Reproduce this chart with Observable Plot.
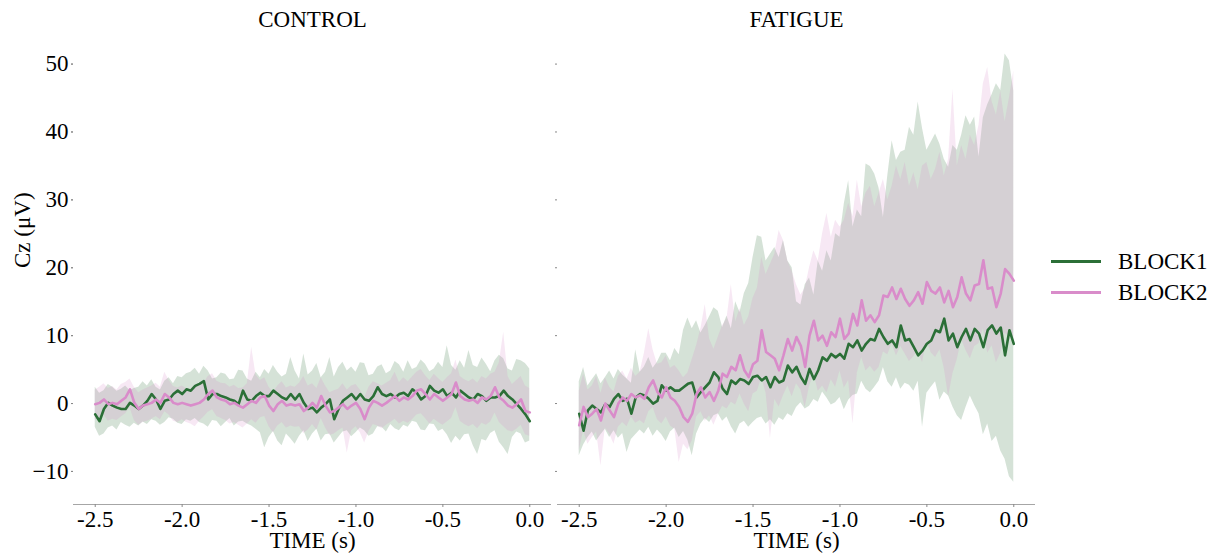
<!DOCTYPE html>
<html><head><meta charset="utf-8">
<script src="https://cdn.jsdelivr.net/npm/d3@7"></script>
<script src="https://cdn.jsdelivr.net/npm/@observablehq/plot@0.6"></script>
<style>
body{margin:0;background:#fff;font-family:"Liberation Serif","Times New Roman",serif;}
#wrap{position:relative;width:1218px;height:554px;overflow:hidden;}
#chart{position:absolute;left:0;top:0;}
#legend{position:absolute;left:1051px;top:246px;font-size:23px;color:#000;}
.item{display:flex;align-items:center;height:31px;}
.sw{width:50px;height:3.5px;margin-right:17px;}
</style></head><body><div id="wrap"><div id="chart"></div><div id="legend"></div></div>
<script>
// ---- categories / labels ----
const conditions = ["CONTROL", "FATIGUE"];
const blocks = ["BLOCK1", "BLOCK2"];
const blockColors = ["#2b6f37", "#d98cca"];
const yTicks = [-10, 0, 10, 20, 30, 40, 50];
const xTicks = [-2.5, -2.0, -1.5, -1.0, -0.5, 0.0];
const timeStart = -2.5, timeStep = 0.025, nSamples = 101;

// ---- CONTROL, BLOCK1 (mean, CI low, CI high) ----
const control_b1_mean = [-1.6,-2.6,-0.8,0.1,-0.3,-0.6,-0.8,-0.8,0.1,-0.3,
-0.8,-0.3,0.4,1.4,0.6,-0.8,0.4,0.6,1.4,1.9,
1.4,2.1,1.9,2.6,2.9,3.3,0.6,1.4,1.4,1.1,
0.9,0.6,0.4,-0.1,1.9,0.6,0.4,1.1,1.6,1.1,
1.1,1.9,1.4,0.9,0.6,1.4,0.6,1.4,0.1,-0.8,
-0.6,-1.3,-0.6,-0.1,0.6,-2.3,-0.8,0.4,0.9,1.4,
0.6,1.4,0.6,0.4,1.1,2.4,1.4,1.1,1.4,0.9,
1.4,1.6,1.1,2.1,1.6,0.6,1.1,2.6,1.9,1.6,
2.1,1.1,1.6,0.9,1.9,1.4,0.9,0.6,1.4,1.1,
0.4,0.9,0.9,1.1,1.9,1.1,0.6,-0.1,-0.8,-1.6,
-2.6];
const control_b1_hi = [2.4,1.5,1.9,2.8,2.4,1.8,2.1,2.6,1.9,2.2,
2.4,3.2,2.6,3.5,2.4,2.0,3.3,3.8,2.9,4.0,
3.8,4.4,4.6,5.2,4.3,5.5,4.8,3.6,3.8,4.5,
4.3,3.5,3.6,4.9,4.8,3.6,3.3,4.6,3.8,5.0,
4.3,5.6,4.6,3.9,4.3,6.8,4.8,3.6,7.3,4.2,
4.8,5.9,3.8,4.6,6.8,3.9,5.3,6.1,4.8,5.4,
4.6,6.0,5.9,4.1,4.3,5.4,5.7,4.4,4.8,6.2,
5.7,4.6,6.3,5.0,5.3,6.4,5.8,4.7,5.1,6.1,
5.3,8.5,5.6,4.9,6.3,5.2,7.8,5.6,5.3,6.7,
5.8,4.7,6.3,7.1,6.6,5.1,4.8,6.5,6.3,5.9,
5.1];
const control_b1_lo = [-3.5,-4.8,-4.5,-3.6,-3.3,-3.9,-2.8,-3.2,-3.5,-2.9,
-3.3,-2.7,-3.1,-2.4,-2.6,-3.2,-2.8,-2.1,-2.3,-2.9,
-3.1,-2.4,-2.6,-2.2,-2.8,-3.0,-3.5,-2.5,-2.6,-3.4,
-2.8,-2.2,-3.3,-2.7,-2.6,-3.0,-3.3,-3.8,-4.3,-6.5,
-5.0,-4.1,-5.5,-6.2,-4.5,-5.2,-6.0,-4.8,-4.0,-5.6,
-4.5,-3.8,-5.5,-4.6,-4.5,-5.8,-5.0,-4.2,-4.0,-4.9,
-4.3,-3.6,-4.0,-4.8,-4.5,-3.4,-3.5,-4.2,-3.1,-3.7,
-4.0,-3.2,-3.5,-2.6,-2.8,-3.9,-4.0,-3.0,-3.1,-4.1,
-3.8,-4.6,-5.9,-4.8,-5.5,-4.6,-4.5,-6.2,-7.5,-5.3,
-5.5,-4.4,-4.0,-5.7,-6.5,-7.5,-5.0,-4.2,-4.5,-5.8,
-5.5];

// ---- CONTROL, BLOCK2 ----
const control_b2_mean = [-0.1,0.1,0.6,-0.1,0.1,-0.1,0.4,0.9,2.1,0.1,
-0.8,-0.3,-0.1,0.1,0.6,0.1,1.4,0.9,0.1,-0.1,
0.1,-0.1,-0.3,-0.1,0.1,0.6,1.4,1.9,0.9,0.6,
0.4,-0.1,0.1,-0.3,-0.6,-0.1,0.4,0.1,0.9,1.1,
-0.3,-1.1,-0.1,0.4,-0.3,-0.1,-0.3,-0.1,-1.1,-0.6,
0.1,-0.6,1.1,-0.3,-1.3,-1.1,-0.6,-0.1,-0.8,-0.3,
0.1,-0.8,-2.3,-0.6,0.4,0.1,-0.3,0.1,0.6,1.1,
0.4,0.9,0.6,1.1,1.9,2.1,1.4,0.6,1.4,0.9,
0.4,0.9,1.4,3.1,1.1,0.6,0.4,0.6,0.1,0.9,
0.6,1.1,2.4,0.9,0.4,-0.3,-0.6,-0.1,0.6,-1.1,
-1.3];
const control_b2_hi = [2.0,2.4,2.9,2.2,2.5,2.0,2.8,3.1,3.6,2.4,
1.6,2.0,2.3,2.6,3.0,2.4,4.6,3.4,2.5,2.3,
2.6,2.2,2.1,2.4,2.6,3.0,4.0,4.4,3.3,3.0,
2.9,2.4,2.7,2.2,2.3,2.9,8.3,4.2,3.4,3.8,
2.4,1.6,2.6,3.2,2.3,2.6,2.4,3.0,4.0,2.6,
2.9,2.2,3.8,2.6,1.6,1.9,2.1,2.9,2.0,2.6,
2.8,2.0,0.8,2.4,3.2,2.9,2.6,3.0,3.4,4.6,
3.1,3.8,3.2,3.9,4.6,5.0,4.1,3.4,4.3,3.7,
3.1,3.8,4.4,6.4,4.0,3.5,3.2,3.6,3.0,4.0,
3.6,4.3,4.6,6.0,10.5,4.0,2.8,3.4,4.0,2.6,
2.2];
const control_b2_lo = [-2.4,-2.2,-1.7,-2.6,-2.3,-2.5,-2.0,-1.5,-0.6,-2.5,
-3.2,-2.8,-2.6,-2.3,-1.9,-2.4,-1.2,-1.7,-2.6,-2.8,
-2.4,-2.8,-3.0,-3.4,-2.6,-2.0,-1.3,-0.9,-1.9,-2.2,
-2.5,-3.0,-2.8,-3.2,-3.6,-3.0,-2.4,-2.9,-2.1,-1.9,
-3.4,-4.3,-3.3,-2.8,-3.6,-3.3,-3.5,-3.4,-4.4,-3.9,
-3.1,-3.9,-2.2,-3.6,-4.7,-4.5,-4.0,-3.6,-7.3,-4.0,
-3.4,-4.3,-5.8,-4.1,-3.1,-3.3,-3.7,-3.2,-2.8,-2.3,
-3.0,-2.6,-2.9,-2.4,-1.7,-1.5,-2.2,-3.0,-2.3,-2.8,
-3.2,-2.7,-2.2,-0.6,-2.6,-3.1,-3.4,-3.1,-3.7,-2.9,
-3.2,-2.7,-1.4,-2.8,-3.4,-4.0,-4.2,-3.8,-3.2,-4.6,
-4.8];

// ---- FATIGUE, BLOCK1 ----
const fatigue_b1_mean = [-1.5,-4.0,-1.0,-0.3,-0.8,-1.3,-0.1,-0.5,0.7,1.4,
0.4,0.7,-1.5,0.9,1.4,1.2,0.7,0.0,0.4,2.7,
1.9,2.4,1.9,1.9,2.4,2.9,3.1,0.9,1.7,2.4,
3.1,4.6,3.9,2.2,1.4,3.4,2.9,3.6,3.4,2.9,
3.9,4.1,3.4,3.9,2.4,3.9,3.1,3.4,5.6,4.6,
5.4,3.9,2.9,5.1,3.6,4.9,6.8,6.3,7.3,6.8,
7.3,6.6,8.8,8.3,9.3,7.8,8.8,9.5,9.3,11.0,
9.8,8.8,9.3,8.3,11.5,9.3,9.5,8.3,7.1,7.8,
8.8,9.3,10.8,10.5,12.5,9.3,10.3,8.3,9.8,11.0,
9.3,11.0,10.3,8.3,10.8,11.5,10.3,11.2,7.1,10.8,
8.8];
const fatigue_b1_hi = [3.2,5.3,2.6,3.5,4.4,2.9,3.8,4.8,3.6,5.0,
4.2,3.6,3.0,7.9,4.6,5.4,6.8,5.2,6.1,7.4,
7.4,6.3,8.1,7.2,10.8,12.6,11.0,12.2,10.4,11.5,
12.8,14.1,13.6,11.2,12.9,11.0,15.0,13.4,16.2,17.7,
21.5,24.7,24.5,21.0,22.0,23.0,21.5,24.0,21.0,20.0,
15.0,14.5,17.5,18.5,16.0,21.0,19.5,22.5,21.0,25.0,
24.5,29.4,32.8,26.0,28.5,27.5,35.3,34.9,33.8,31.7,
27.4,33.5,38.7,35.8,37.0,37.3,40.7,39.5,44.4,40.5,
37.3,38.5,39.7,38.2,36.0,34.8,38.0,37.3,39.5,42.4,
41.0,42.2,36.3,42.1,44.0,45.5,47.1,46.1,51.5,50.5,
46.0];
const fatigue_b1_lo = [-7.7,-6.1,-5.0,-4.2,-5.5,-4.6,-3.8,-5.0,-4.0,-5.1,
-4.4,-7.2,-5.3,-4.6,-3.9,-4.5,-3.5,-4.8,-3.9,-4.6,
-5.6,-4.2,-3.6,-5.0,-4.1,-5.4,-7.7,-4.5,-3.0,-2.2,
-2.8,-1.8,-1.5,-2.6,-2.0,-3.4,-4.5,-3.0,-2.6,-3.5,
-2.8,-2.2,-2.0,-3.0,-2.4,-3.2,-2.1,-2.5,-1.5,-1.9,
-0.6,0.1,-0.8,-0.4,0.6,0.2,1.7,0.8,-0.2,0.1,
0.9,-0.9,0.5,1.2,1.4,3.3,2.1,1.6,2.4,3.3,
5.3,3.2,2.4,3.8,2.1,3.0,2.7,1.8,3.3,-3.5,
1.5,2.4,3.2,0.5,1.7,1.1,-0.5,-1.8,-2.5,-0.6,
1.1,-0.3,-1.5,-4.6,-3.0,-5.6,-4.8,-7.0,-8.2,-10.8,
-11.6];

// ---- FATIGUE, BLOCK2 ----
const fatigue_b2_mean = [-3.2,-0.5,-2.0,-1.5,-0.8,-2.5,0.0,-1.0,-2.0,0.0,
0.9,0.4,1.4,0.9,1.2,0.7,2.4,3.4,1.7,0.9,
2.4,0.9,0.4,-0.5,-2.0,-2.7,-1.5,1.4,2.4,0.9,
1.7,0.4,1.9,4.4,3.9,5.4,4.9,7.1,4.9,3.9,
5.8,6.3,10.8,7.6,7.1,6.6,4.9,7.1,9.5,7.8,
9.8,8.5,5.4,10.0,12.2,9.3,10.0,8.5,10.5,9.8,
12.5,9.5,10.3,13.2,11.5,15.2,12.2,13.0,12.0,13.0,
15.9,15.7,17.1,15.4,16.9,15.4,14.4,15.2,16.4,14.7,
17.9,16.6,16.2,17.1,14.9,16.6,14.2,15.7,18.6,16.2,
15.2,17.4,17.6,21.1,16.9,17.1,14.2,16.2,19.8,19.1,
18.1];
const fatigue_b2_hi = [1.8,4.3,2.0,2.6,4.0,1.5,3.8,2.4,1.7,4.0,
4.8,3.6,5.2,4.0,4.6,7.4,11.0,7.9,5.8,6.0,
7.0,5.2,5.6,4.8,3.8,4.5,6.5,8.5,11.0,14.6,
9.5,8.0,9.8,11.5,12.5,17.5,12.0,14.0,11.5,12.8,
15.5,17.0,21.5,19.0,20.5,22.0,25.5,24.0,21.0,19.5,
17.5,16.0,17.0,20.0,22.5,21.0,25.0,28.0,24.5,27.0,
26.0,27.0,29.5,27.5,32.9,29.0,31.0,32.0,29.0,31.0,
33.0,30.0,32.0,35.0,33.0,35.5,32.0,34.0,31.5,35.0,
35.5,33.0,34.5,37.0,33.5,36.0,46.3,35.0,38.0,36.0,
39.5,38.0,41.0,47.1,49.5,44.5,42.5,46.0,41.5,45.0,
49.0];
const fatigue_b2_lo = [-7.0,-4.0,-6.0,-5.0,-4.2,-9.2,-3.6,-4.5,-6.0,-3.5,
-2.8,-3.4,-2.0,-2.9,-2.5,-3.0,-1.2,-0.6,-2.4,-3.0,
-2.0,-3.3,-3.8,-8.7,-6.0,-6.8,-5.5,-2.0,-1.2,-2.6,
-1.8,-3.2,-1.6,-0.4,-0.8,0.2,-0.2,1.4,-0.1,-1.2,
1.4,1.8,3.8,1.5,-5.1,0.6,-0.5,1.2,2.6,1.0,
2.9,2.0,-0.6,2.5,4.4,1.8,2.6,1.6,3.5,2.4,
4.8,2.3,3.4,-3.0,4.5,6.8,4.8,5.5,4.6,5.3,
7.6,7.2,8.8,7.0,8.4,7.3,6.2,6.9,7.8,6.0,
9.2,7.5,6.8,7.9,5.2,1.0,4.4,6.5,9.4,7.8,
6.6,8.4,8.8,11.0,7.4,8.5,6.0,7.4,10.4,9.8,
9.6];

// ---- build table ----
const time = d3.range(nSamples).map(i => +(timeStart + i * timeStep).toFixed(3));
const seriesList = [
  ["CONTROL", "BLOCK1", control_b1_mean, control_b1_lo, control_b1_hi],
  ["CONTROL", "BLOCK2", control_b2_mean, control_b2_lo, control_b2_hi],
  ["FATIGUE", "BLOCK1", fatigue_b1_mean, fatigue_b1_lo, fatigue_b1_hi],
  ["FATIGUE", "BLOCK2", fatigue_b2_mean, fatigue_b2_lo, fatigue_b2_hi]
];
const rows = [];
for (const [cond, block, m, lo, hi] of seriesList) {
  time.forEach((t, i) => rows.push({cond, block, t, mean: m[i], lo: lo[i], hi: hi[i]}));
}
const yMin = -14.87, yMax = 54.8;
const fmtY = d => d < 0 ? "\u2212" + Math.abs(d) : String(d);
const FS = 23;

const marks = [];
blocks.forEach((b, k) => {
  marks.push(Plot.areaY(rows.filter(r => r.block === b), {
    x: "t", y1: "lo", y2: "hi", fx: "cond", fill: blockColors[k], fillOpacity: 0.2
  }));
});
blocks.forEach((b, k) => {
  marks.push(Plot.lineY(rows.filter(r => r.block === b), {
    x: "t", y: "mean", fx: "cond", stroke: blockColors[k], strokeWidth: 2.6
  }));
});
marks.push(
  Plot.ruleY([yMin], {stroke: "#a6a6a6", strokeWidth: 1}),
  Plot.axisX({ticks: xTicks, tickFormat: d => d.toFixed(1), tickSize: 3, tickPadding: 3,
    stroke: "#888", fill: "#000", fontSize: FS, label: null}),
  Plot.axisY({ticks: yTicks, tickFormat: fmtY, tickSize: 2, tickPadding: 3,
    stroke: "#888", fill: "#000", fontSize: FS, label: null}),
  Plot.axisY({ticks: yTicks, tickFormat: () => "", tickSize: 2, stroke: "#888",
    facetAnchor: null, label: null}),
  Plot.text(conditions, {fx: d => d, text: d => d, frameAnchor: "top", dy: -12,
    fontSize: FS, fill: "#000", lineAnchor: "middle"}),
  Plot.text(["TIME (s)"], {frameAnchor: "bottom", dy: 36, fontSize: FS, fill: "#000",
    lineAnchor: "middle"}),
  Plot.text([conditions[0]], {fx: d => d, text: () => "Cz (\u03bcV)", frameAnchor: "left",
    dx: -51, rotate: -90, fontSize: FS, fill: "#000", lineAnchor: "middle"})
);

const chart = Plot.plot({
  width: 1040, height: 554,
  marginLeft: 73, marginRight: 5, marginTop: 31, marginBottom: 50,
  style: {fontFamily: "'Liberation Serif','Times New Roman',serif", fontSize: FS + "px", background: "white", color: "#000"},
  fx: {domain: conditions, paddingInner: 6 / 484, paddingOuter: 0, round: false, axis: null, label: null},
  x: {domain: [-2.625, 0.125], label: null},
  y: {domain: [yMin, yMax], label: null},
  marks
});
document.getElementById("chart").appendChild(chart);

// ---- legend (HTML, right of the plot) ----
const legend = document.getElementById("legend");
blocks.forEach((b, k) => {
  const item = document.createElement("div");
  item.className = "item";
  const sw = document.createElement("div");
  sw.className = "sw";
  sw.style.background = blockColors[k];
  const lab = document.createElement("span");
  lab.textContent = b;
  item.appendChild(sw); item.appendChild(lab);
  legend.appendChild(item);
});
</script></body></html>
